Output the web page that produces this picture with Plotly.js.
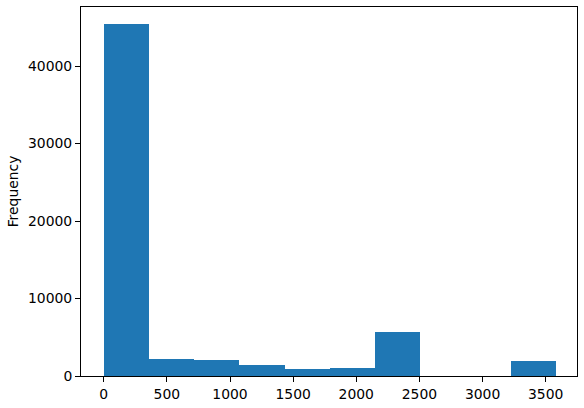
<!DOCTYPE html>
<html>
<head>
<meta charset="utf-8">
<script src="https://cdn.plot.ly/plotly-3.0.1.min.js"></script>
<style>html,body{margin:0;padding:0;background:#fff;}#chart{width:584px;height:408px;}</style>
</head>
<body>
<div id="chart"></div>
<script>
// Histogram bin edges (10 equal bins) and counts
const binEdges = [0, 358, 716, 1074, 1432, 1790, 2148, 2506, 2864, 3222, 3580];
const counts = [45400, 2200, 2050, 1460, 920, 1030, 5700, 0, 0, 1930];
const xTicks = [0, 500, 1000, 1500, 2000, 2500, 3000, 3500];
const yTicks = [0, 10000, 20000, 30000, 40000];
const yLabel = "Frequency";

const centers = counts.map((_, i) => (binEdges[i] + binEdges[i + 1]) / 2);
const widths = counts.map((_, i) => binEdges[i + 1] - binEdges[i]);

const font = {family: "DejaVu Sans", size: 13.9, color: "#000"};
const axisCommon = {
  showline: true, linecolor: "#000", linewidth: 1, mirror: true,
  showgrid: false, zeroline: false,
  ticks: "outside", ticklen: 5, tickwidth: 1, tickcolor: "#000",
  tickfont: font, tickformat: "d"
};

Plotly.newPlot("chart", [{
  type: "bar",
  x: centers,
  y: counts,
  width: widths,
  marker: {color: "#1f77b4", line: {width: 0}},
  hoverinfo: "x+y"
}], {
  width: 584, height: 408,
  margin: {l: 81, r: 7, t: 7, b: 32, pad: 0},
  paper_bgcolor: "#fff", plot_bgcolor: "#fff",
  font: font,
  showlegend: false,
  bargap: 0,
  xaxis: Object.assign({}, axisCommon, {
    range: [-180, 3748], tickvals: xTicks, ticktext: xTicks.map(String)
  }),
  yaxis: Object.assign({}, axisCommon, {
    range: [0, 47613], tickvals: yTicks, ticktext: yTicks.map(String),
    title: {text: yLabel, font: font, standoff: 6}
  })
}, {staticPlot: true, displayModeBar: false});
</script>
</body>
</html>
